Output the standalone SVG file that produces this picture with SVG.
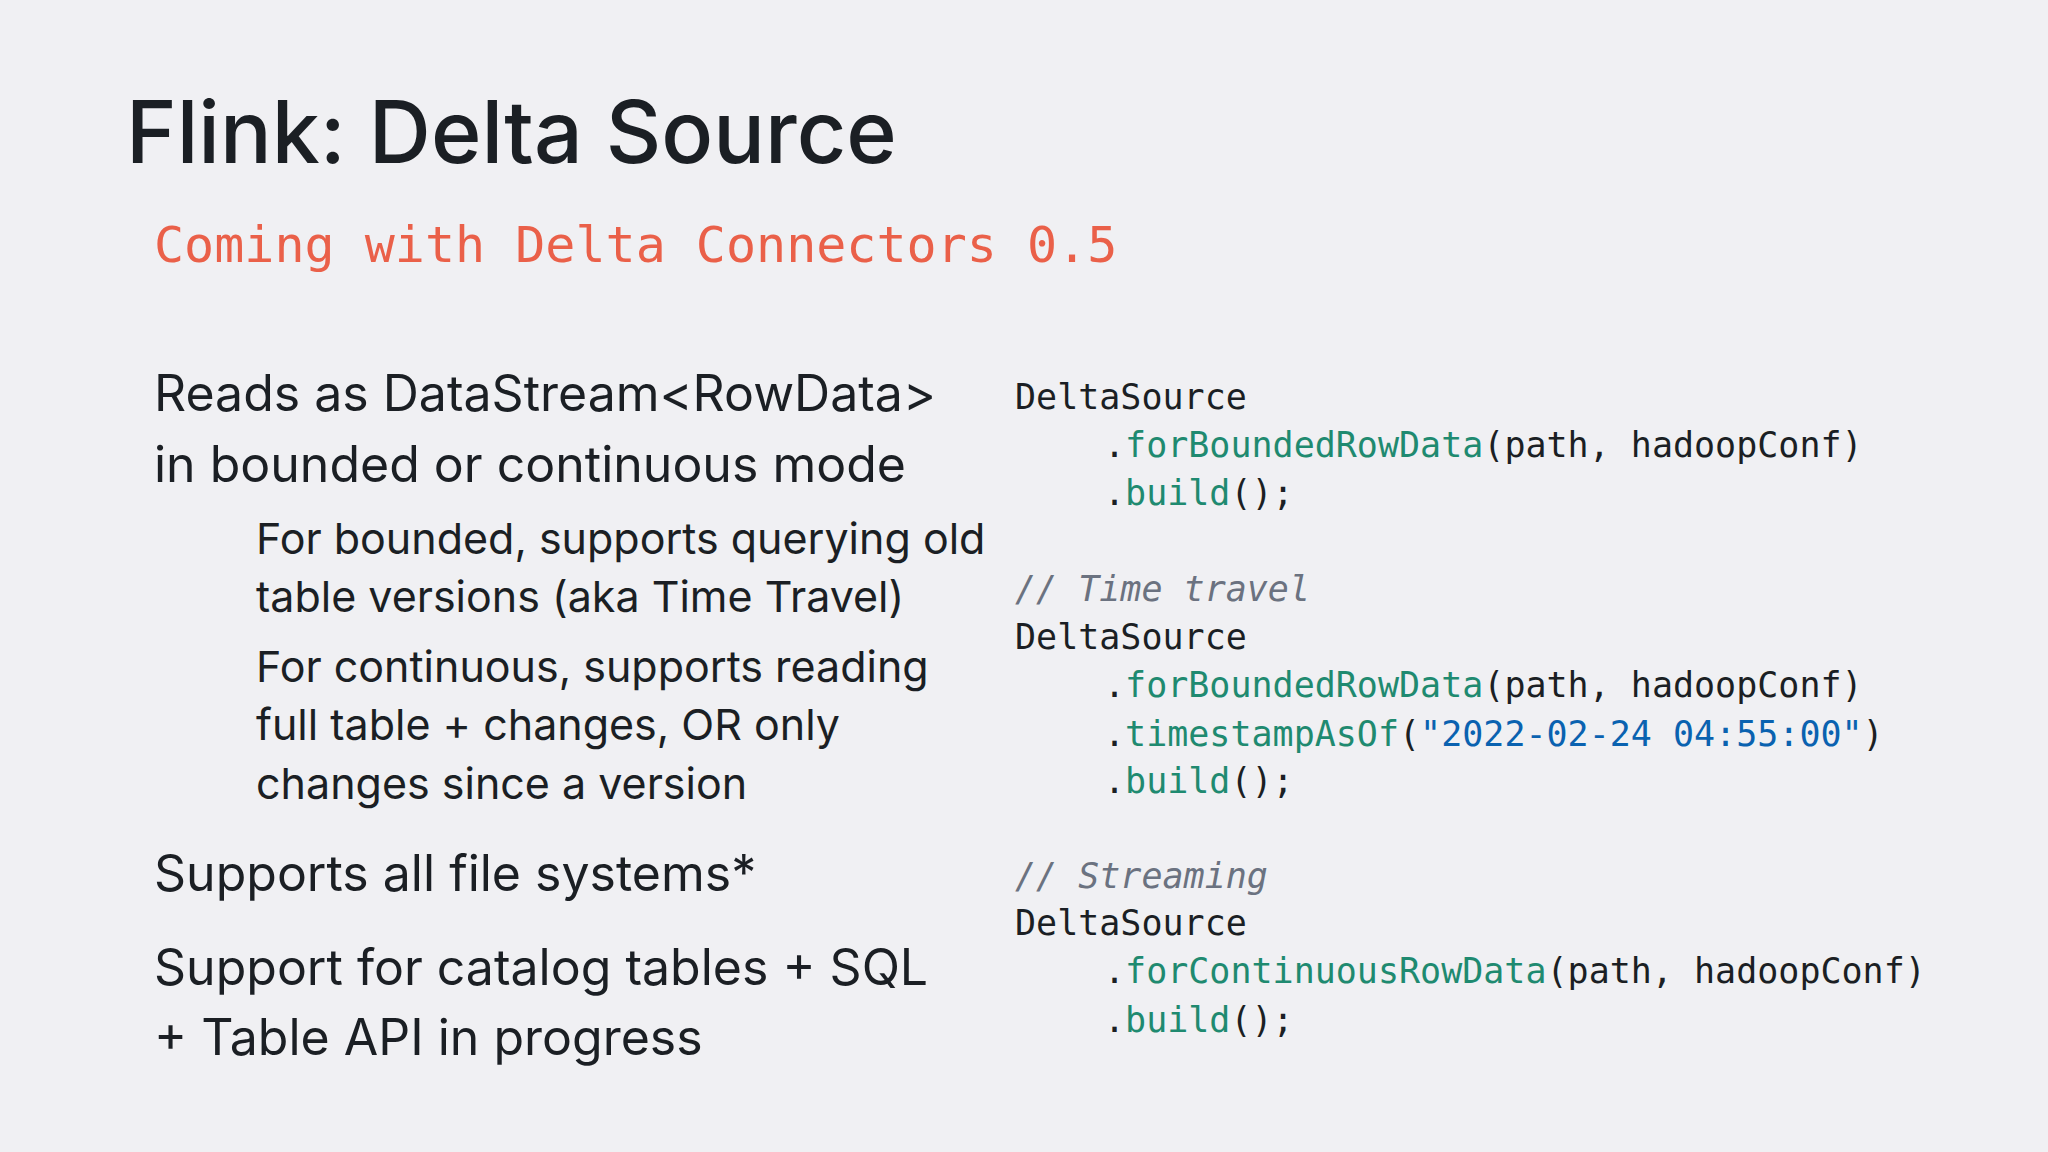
<svg xmlns="http://www.w3.org/2000/svg" width="2048" height="1152" viewBox="0 0 2048 1152">
<style>
.t{font-family:Inter,"Noto Sans",sans-serif;fill:#1b1f24}
.b{font-size:50px}
.s{font-size:43px}
.c{font-family:"DejaVu Sans Mono","Liberation Mono",monospace;font-size:35px;fill:#1b1f24}
.g{fill:#1f8a70}
.q{fill:#0a62b0}
.m{fill:#6b7280;font-style:italic}
</style>
<rect width="2048" height="1152" fill="#f0f0f3"/>
<g id="title"><text class="t" x="126" y="163" font-size="86" font-weight="500">Flink: Delta Source</text></g>
<g id="subtitle"><text x="154" y="262" font-family="'DejaVu Sans Mono','Liberation Mono',monospace" font-size="50" fill="#ea6049">Coming with Delta Connectors 0.5</text></g>
<g id="bullets">
<text class="t b" x="154" y="411">Reads as DataStream&lt;RowData&gt;</text>
<text class="t b" x="154" y="482">in bounded or continuous mode</text>
<text class="t s" x="256" y="554">For bounded, supports querying old</text>
<text class="t s" x="256" y="612">table versions  (aka Time Travel)</text>
<text class="t s" x="256" y="682">For continuous, supports reading</text>
<text class="t s" x="256" y="740">full table + changes, OR only</text>
<text class="t s" x="256" y="799">changes since a version</text>
<text class="t b" x="154" y="891">Supports all file systems*</text>
<text class="t b" x="154" y="985">Support for catalog tables + SQL</text>
<text class="t b" x="154" y="1055">+ Table API in progress</text>
</g>
<g id="code">
<text class="c" x="1015" y="409">DeltaSource</text>
<text class="c" x="1104" y="457">.<tspan class="g">forBoundedRowData</tspan>(path, hadoopConf)</text>
<text class="c" x="1104" y="505">.<tspan class="g">build</tspan>();</text>
<text class="c m" x="1015" y="601">// Time travel</text>
<text class="c" x="1015" y="649">DeltaSource</text>
<text class="c" x="1104" y="697">.<tspan class="g">forBoundedRowData</tspan>(path, hadoopConf)</text>
<text class="c" x="1104" y="746">.<tspan class="g">timestampAsOf</tspan>(<tspan class="q">"2022-02-24 04:55:00"</tspan>)</text>
<text class="c" x="1104" y="793">.<tspan class="g">build</tspan>();</text>
<text class="c m" x="1015" y="888">// Streaming</text>
<text class="c" x="1015" y="935">DeltaSource</text>
<text class="c" x="1104" y="983">.<tspan class="g">forContinuousRowData</tspan>(path, hadoopConf)</text>
<text class="c" x="1104" y="1032">.<tspan class="g">build</tspan>();</text>
</g>
</svg>
